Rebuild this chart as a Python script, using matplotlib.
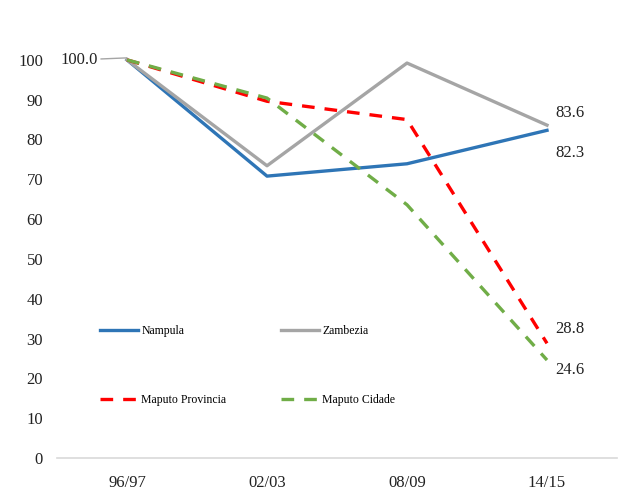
import matplotlib
matplotlib.use("Agg")
import matplotlib.pyplot as plt
import numpy as np

# data
periods = ["96/97", "02/03", "08/09", "14/15"]
nampula = [100.0, 70.8, 73.9, 82.3]
zambezia = [100.0, 73.4, 99.2, 83.6]
maputo_provincia = [100.0, 89.6, 85.0, 28.8]
maputo_cidade = [100.0, 90.4, 63.6, 24.6]

plt.rcParams["font.family"] = ["Liberation Serif", "DejaVu Serif"]

fig = plt.figure(figsize=(6.23, 4.92), dpi=100)
ax = fig.add_axes([57 / 623, 1 - 458 / 492, 560 / 623, 428 / 492])

x = np.arange(len(periods))
l_nam, = ax.plot(x, nampula, color="#2E75B6", lw=2.4, label="Nampula")
l_zam, = ax.plot(x, zambezia, color="#A5A5A5", lw=2.4, label="Zambezia")
l_prov, = ax.plot(x, maputo_provincia, color="#FF0000", lw=2.4,
                  dashes=(3.8, 3), label="Maputo Provincia")
l_cid, = ax.plot(x, maputo_cidade, color="#70AD47", lw=2.4,
                 dashes=(3.8, 3), label="Maputo Cidade")

ax.set_xlim(-0.5, 3.5)
ax.set_ylim(0, 107.5)
ax.set_yticks(np.arange(0, 101, 10))
ax.set_xticks(x)
ax.set_xticklabels(periods)
ax.tick_params(axis="both", length=0, labelsize=12, colors="#222222")
ax.tick_params(axis="y", pad=10)
ax.tick_params(axis="x", pad=12)

for side in ["top", "right", "left"]:
    ax.spines[side].set_visible(False)
ax.spines["bottom"].set_color("#D9D9D9")
ax.spines["bottom"].set_linewidth(1.2)

# data labels
ax.annotate(f"{nampula[0]:.1f}", xy=(x[0], 100.5), xytext=(-0.34, 100),
            ha="center", va="center", fontsize=12, color="#222222",
            arrowprops=dict(arrowstyle="-", color="#A5A5A5", lw=1,
                            shrinkA=0, shrinkB=0))
ax.text(x[3] + 0.06, zambezia[3] + 3, f"{zambezia[3]:.1f}", fontsize=12,
        va="center", color="#222222")
ax.text(x[3] + 0.06, nampula[3] - 5.8, f"{nampula[3]:.1f}", fontsize=12,
        va="center", color="#222222")
ax.text(x[3] + 0.06, maputo_provincia[3] + 3.5, f"{maputo_provincia[3]:.1f}",
        fontsize=12, va="center", color="#222222")
ax.text(x[3] + 0.06, maputo_cidade[3] - 2.5, f"{maputo_cidade[3]:.1f}",
        fontsize=12, va="center", color="#222222")

ax.legend([l_nam, l_prov, l_zam, l_cid],
          ["Nampula", "Maputo Provincia", "Zambezia", "Maputo Cidade"],
          ncol=2, frameon=False, fontsize=8.5, handlelength=3.2,
          handletextpad=0.3, labelspacing=4.8, columnspacing=4.6,
          loc="upper left", bbox_to_anchor=(0.058, 0.335))

fig.savefig("out.png", dpi=100)
